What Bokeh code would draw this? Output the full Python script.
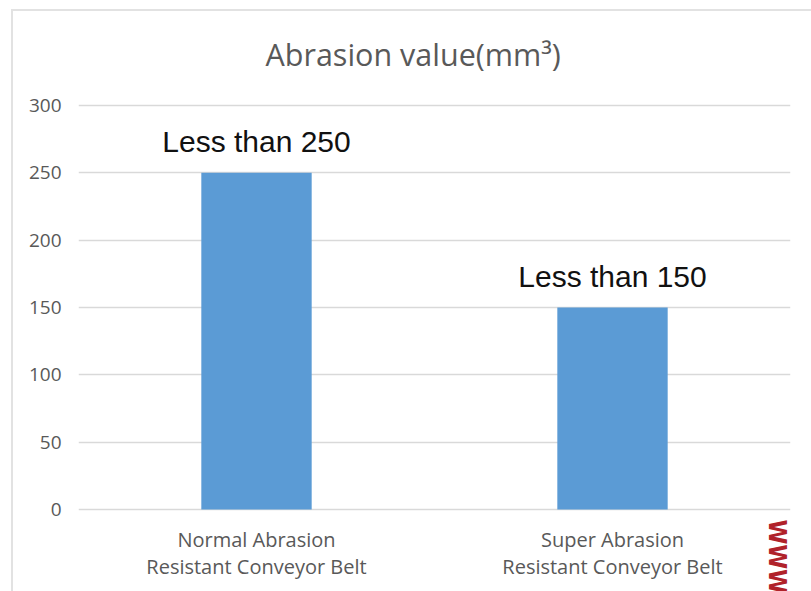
import math
from bokeh.plotting import figure
from bokeh.models import ColumnDataSource, Title, Label, FactorRange
from bokeh.embed import file_html
from bokeh.resources import INLINE
from bokeh.core.properties import value

categories = ["Normal Abrasion\nResistant Conveyor Belt", "Super Abrasion\nResistant Conveyor Belt"]
values = [250, 150]
bar_labels = ["Less than 250", "Less than 150"]
y_ticks = [0, 50, 100, 150, 200, 250, 300]
title_text = "Abrasion value(mm³)"
watermark = "WWW"

src = ColumnDataSource(dict(cat=categories, val=values, lab=bar_labels, base=[0, 0]))

p = figure(width=811, height=591,
           x_range=FactorRange(*categories), y_range=(-60.9, 301.5),
           output_backend="svg", toolbar_location=None,
           min_border_left=78, min_border_right=21,
           min_border_top=103, min_border_bottom=0,
           styles={
               "background-color": "white",
               "background-image": "linear-gradient(#e2e2e2,#e2e2e2), linear-gradient(#e2e2e2,#e2e2e2)",
               "background-size": "2px 100%, 100% 2px",
               "background-position": "11px 9px, 11px 9px",
               "background-repeat": "no-repeat",
           })
p.outline_line_color = None
p.background_fill_color = "white"
p.border_fill_color = None
p.xaxis.visible = False

p.vbar(x="cat", top="val", width=0.31, fill_color="#5b9bd5", line_color=None, source=src)
p.text(x="cat", y="val", text="lab", y_offset=-15, text_align="center", text_baseline="bottom",
       text_font=value("Liberation Sans"), text_font_size="30px", text_color="#111111", source=src)
# category labels under the baseline
p.text(x="cat", y="base", text="cat", y_offset=17, text_align="center", text_baseline="top",
       text_line_height=0.98, text_font=value("Open Sans"), text_font_size="20px",
       text_color="#595959", source=src)

p.xgrid.grid_line_color = None
p.ygrid.grid_line_color = "#d9d9d9"
p.ygrid.grid_line_width = 1.5
p.ygrid.ticker = y_ticks

p.yaxis.ticker = y_ticks
ax = p.yaxis[0]
ax.axis_line_color = None
ax.major_tick_line_color = None
ax.minor_tick_line_color = None
ax.major_label_text_font = "Open Sans"
ax.major_label_text_font_size = "19px"
ax.major_label_text_color = "#595959"
ax.major_label_standoff = 11

t = Title(text=title_text, align="left", offset=187, standoff=58,
          text_font="Open Sans", text_font_size="30.5px", text_font_style="normal",
          text_color="#595959")
p.add_layout(t, "above")

wm = Label(x=1.963, y=-7.4, text=watermark, angle=-math.pi / 2, text_align="left", text_baseline="middle",
           text_color="#b0222a", text_font="DejaVu Sans Condensed", text_font_size="25px",
           text_font_style="bold")
p.add_layout(wm)

open("out.html", "w").write(file_html(p, INLINE))
